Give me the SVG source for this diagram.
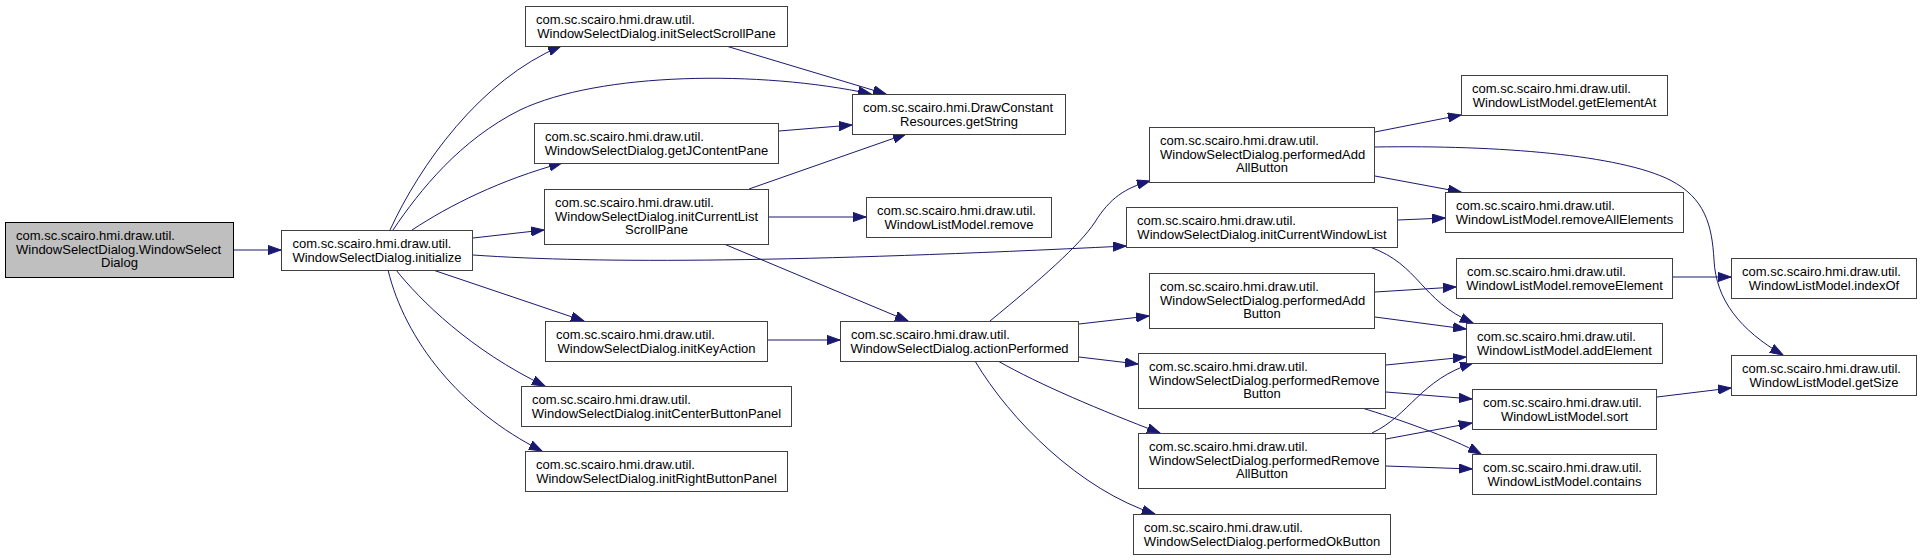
<svg xmlns="http://www.w3.org/2000/svg" width="1923" height="560" viewBox="0 0 1923 560">
<style>
.bg{fill:#ffffff}
.n rect{fill:#ffffff;stroke:#404040;stroke-width:1}
.n.root rect{fill:#bfbfbf;stroke:#000000}
.n text{font-family:"Liberation Sans",Arial,Helvetica,sans-serif;font-size:13px;fill:#000000}
.n text.c{text-anchor:middle}
.e path{fill:none;stroke:#191970;stroke-width:1;marker-end:url(#ah)}
</style>
<defs>
<marker id="ah" markerWidth="14" markerHeight="10" refX="13" refY="5" orient="auto" markerUnits="userSpaceOnUse">
<path d="M0,0.4 L13,5 L0,9.6 z" fill="#191970" stroke="#191970" stroke-width="1"/>
</marker>
</defs>
<rect class="bg" x="0" y="0" width="1923" height="560"/>

<g id="edges" class="e">
<path d="M233.5,250 L281,250"/>
<path d="M390,230 C420,165 480,80 561,46"/>
<path d="M393,230 C420,190 460,140 520,110 C600,72 760,70 871,94"/>
<path d="M412,230 C450,205 500,180 562,163"/>
<path d="M473,238 L544,230"/>
<path d="M473,255 C600,264 800,262 1126,246"/>
<path d="M433,270 L584,321"/>
<path d="M396,270 C420,300 470,350 545,386"/>
<path d="M388,270 C405,340 460,410 542,451"/>
<path d="M726,46 L886,94"/>
<path d="M779,131 L852,125"/>
<path d="M749,189 L906,134"/>
<path d="M769,217 L866,217"/>
<path d="M724,244 L908,321"/>
<path d="M768,340 L840,340"/>
<path d="M990,321 C1040,280 1080,245 1095,222 C1110,198 1125,188 1150,181"/>
<path d="M1079,324 L1149,316"/>
<path d="M1079,357 L1138,364"/>
<path d="M998,361 C1040,385 1100,410 1160,433"/>
<path d="M975,361 C1010,420 1080,490 1155,514"/>
<path d="M1375,132 L1461,115"/>
<path d="M1375,176 L1461,192"/>
<path d="M1375,147 C1500,145 1620,155 1670,180 C1705,198 1712,225 1714,260 C1716,300 1740,330 1783,355"/>
<path d="M1398,220 L1445,218"/>
<path d="M1370,247 C1420,265 1420,300 1473,323"/>
<path d="M1375,292 L1456,287"/>
<path d="M1375,317 L1466,329"/>
<path d="M1673,277 L1731,277"/>
<path d="M1386,365 L1466,357"/>
<path d="M1386,392 L1472,399"/>
<path d="M1362,408 C1395,418 1450,437 1481,454"/>
<path d="M1372,433 C1410,415 1420,380 1473,363"/>
<path d="M1386,439 L1472,423"/>
<path d="M1386,466 L1472,469"/>
<path d="M1657,397 L1731,388"/>
</g>

<g id="n_root" class="n root">
<rect x="5.5" y="222.5" width="228" height="55"/>
<text x="16" y="240">com.sc.scairo.hmi.draw.util.</text>
<text x="16" y="253.5">WindowSelectDialog.WindowSelect</text>
<text class="c" x="119.5" y="267">Dialog</text>
</g>
<g id="n_initialize" class="n">
<rect x="281.5" y="230.5" width="191" height="40"/>
<text x="292.5" y="248">com.sc.scairo.hmi.draw.util.</text>
<text class="c" x="377" y="261.5">WindowSelectDialog.initialize</text>
</g>
<g id="n_initSelectScrollPane" class="n">
<rect x="525.5" y="6.5" width="262" height="40"/>
<text x="536" y="24">com.sc.scairo.hmi.draw.util.</text>
<text class="c" x="656.5" y="37.5">WindowSelectDialog.initSelectScrollPane</text>
</g>
<g id="n_getString" class="n">
<rect x="852.5" y="94.5" width="213" height="40"/>
<text x="863" y="112">com.sc.scairo.hmi.DrawConstant</text>
<text class="c" x="959" y="125.5">Resources.getString</text>
</g>
<g id="n_getJContentPane" class="n">
<rect x="534.5" y="123.5" width="244" height="40"/>
<text x="545" y="141">com.sc.scairo.hmi.draw.util.</text>
<text class="c" x="656.5" y="154.5">WindowSelectDialog.getJContentPane</text>
</g>
<g id="n_initCurrentListScrollPane" class="n">
<rect x="544.5" y="189.5" width="224" height="55"/>
<text x="555" y="207">com.sc.scairo.hmi.draw.util.</text>
<text x="555" y="220.5">WindowSelectDialog.initCurrentList</text>
<text class="c" x="656.5" y="234">ScrollPane</text>
</g>
<g id="n_remove" class="n">
<rect x="866.5" y="197.5" width="185" height="40"/>
<text x="877" y="215">com.sc.scairo.hmi.draw.util.</text>
<text class="c" x="959" y="228.5">WindowListModel.remove</text>
</g>
<g id="n_initKeyAction" class="n">
<rect x="545.5" y="321.5" width="222" height="40"/>
<text x="556" y="339">com.sc.scairo.hmi.draw.util.</text>
<text class="c" x="656.5" y="352.5">WindowSelectDialog.initKeyAction</text>
</g>
<g id="n_initCenterButtonPanel" class="n">
<rect x="521.5" y="386.5" width="270" height="40"/>
<text x="532" y="404">com.sc.scairo.hmi.draw.util.</text>
<text class="c" x="656.5" y="417.5">WindowSelectDialog.initCenterButtonPanel</text>
</g>
<g id="n_initRightButtonPanel" class="n">
<rect x="525.5" y="451.5" width="262" height="40"/>
<text x="536" y="469">com.sc.scairo.hmi.draw.util.</text>
<text class="c" x="656.5" y="482.5">WindowSelectDialog.initRightButtonPanel</text>
</g>
<g id="n_actionPerformed" class="n">
<rect x="840.5" y="321.5" width="238" height="40"/>
<text x="851" y="339">com.sc.scairo.hmi.draw.util.</text>
<text class="c" x="959.5" y="352.5">WindowSelectDialog.actionPerformed</text>
</g>
<g id="n_performedAddAllButton" class="n">
<rect x="1149.5" y="127.5" width="225" height="55"/>
<text x="1160" y="145">com.sc.scairo.hmi.draw.util.</text>
<text x="1160" y="158.5">WindowSelectDialog.performedAdd</text>
<text class="c" x="1262" y="172">AllButton</text>
</g>
<g id="n_initCurrentWindowList" class="n">
<rect x="1126.5" y="207.5" width="271" height="40"/>
<text x="1137" y="225">com.sc.scairo.hmi.draw.util.</text>
<text class="c" x="1262" y="238.5">WindowSelectDialog.initCurrentWindowList</text>
</g>
<g id="n_performedAddButton" class="n">
<rect x="1149.5" y="273.5" width="225" height="55"/>
<text x="1160" y="291">com.sc.scairo.hmi.draw.util.</text>
<text x="1160" y="304.5">WindowSelectDialog.performedAdd</text>
<text class="c" x="1262" y="318">Button</text>
</g>
<g id="n_performedRemoveButton" class="n">
<rect x="1138.5" y="353.5" width="247" height="55"/>
<text x="1149" y="371">com.sc.scairo.hmi.draw.util.</text>
<text x="1149" y="384.5">WindowSelectDialog.performedRemove</text>
<text class="c" x="1262" y="398">Button</text>
</g>
<g id="n_performedRemoveAllButton" class="n">
<rect x="1138.5" y="433.5" width="247" height="55"/>
<text x="1149" y="451">com.sc.scairo.hmi.draw.util.</text>
<text x="1149" y="464.5">WindowSelectDialog.performedRemove</text>
<text class="c" x="1262" y="478">AllButton</text>
</g>
<g id="n_performedOkButton" class="n">
<rect x="1133.5" y="514.5" width="257" height="40"/>
<text x="1144" y="532">com.sc.scairo.hmi.draw.util.</text>
<text class="c" x="1262" y="545.5">WindowSelectDialog.performedOkButton</text>
</g>
<g id="n_getElementAt" class="n">
<rect x="1461.5" y="75.5" width="206" height="40"/>
<text x="1472" y="93">com.sc.scairo.hmi.draw.util.</text>
<text class="c" x="1564.5" y="106.5">WindowListModel.getElementAt</text>
</g>
<g id="n_removeAllElements" class="n">
<rect x="1445.5" y="192.5" width="238" height="40"/>
<text x="1456" y="210">com.sc.scairo.hmi.draw.util.</text>
<text class="c" x="1564.5" y="223.5">WindowListModel.removeAllElements</text>
</g>
<g id="n_removeElement" class="n">
<rect x="1456.5" y="258.5" width="216" height="40"/>
<text x="1467" y="276">com.sc.scairo.hmi.draw.util.</text>
<text class="c" x="1564.5" y="289.5">WindowListModel.removeElement</text>
</g>
<g id="n_addElement" class="n">
<rect x="1466.5" y="323.5" width="196" height="40"/>
<text x="1477" y="341">com.sc.scairo.hmi.draw.util.</text>
<text class="c" x="1564.5" y="354.5">WindowListModel.addElement</text>
</g>
<g id="n_sort" class="n">
<rect x="1472.5" y="389.5" width="184" height="40"/>
<text x="1483" y="407">com.sc.scairo.hmi.draw.util.</text>
<text class="c" x="1564.5" y="420.5">WindowListModel.sort</text>
</g>
<g id="n_contains" class="n">
<rect x="1472.5" y="454.5" width="184" height="40"/>
<text x="1483" y="472">com.sc.scairo.hmi.draw.util.</text>
<text class="c" x="1564.5" y="485.5">WindowListModel.contains</text>
</g>
<g id="n_indexOf" class="n">
<rect x="1731.5" y="258.5" width="185" height="40"/>
<text x="1742" y="276">com.sc.scairo.hmi.draw.util.</text>
<text class="c" x="1824" y="289.5">WindowListModel.indexOf</text>
</g>
<g id="n_getSize" class="n">
<rect x="1731.5" y="355.5" width="185" height="40"/>
<text x="1742" y="373">com.sc.scairo.hmi.draw.util.</text>
<text class="c" x="1824" y="386.5">WindowListModel.getSize</text>
</g>
</svg>
